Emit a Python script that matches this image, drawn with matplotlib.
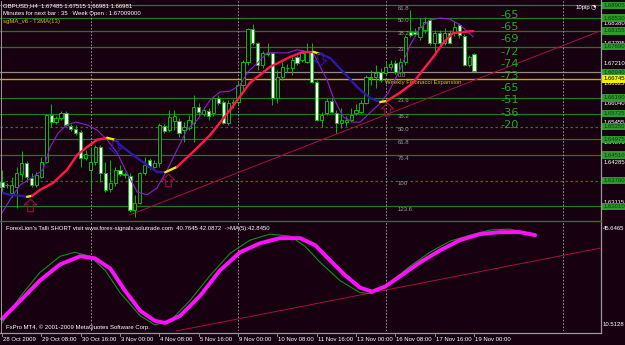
import matplotlib
matplotlib.use('Agg')
import matplotlib.pyplot as plt
from matplotlib.path import Path
from matplotlib.collections import LineCollection
from matplotlib.patches import Rectangle

plt.rcParams['font.family'] = ['Liberation Sans', 'DejaVu Sans']
BG = '#170010'
FS = 4.3

# ---------------- data ----------------
opens = [1.6373,1.6363,1.6341,1.6358,1.6396,1.6428,1.6384,1.6364,1.6387,1.6431,
         1.6569,1.6548,1.6560,1.6575,1.6537,1.6528,1.6519,1.6443,1.6408,1.6431,
         1.6475,1.6399,1.6352,1.6370,1.6408,1.6396,1.6390,1.6291,1.6311,1.6399,
         1.6437,1.6417,1.6428,1.6537,1.6525,1.6551,1.6551,1.6525,1.6531,1.6546,
         1.6593,1.6572,1.6581,1.6575,1.6619,1.6607,1.6546,1.6604,1.6607,1.6657,
         1.6724,1.6821,1.6780,1.6716,1.6751,1.6751,1.6619,1.6680,1.6707,1.6707,
         1.6739,1.6730,1.6724,1.6754,1.6666,1.6554,1.6575,1.6610,1.6575,1.6546,
         1.6548,1.6554,1.6575,1.6578,1.6604,1.6680,1.6680,1.6695,1.6692,1.6710,
         1.6721,1.6695,1.6724,1.6812,1.6812,1.6798,1.6818,1.6847,1.6780,1.6809,
         1.6780,1.6809,1.6809,1.6833,1.6801,1.6716,1.67485]
highs = [1.6408,1.6370,1.6387,1.6417,1.6464,1.6434,1.6399,1.6402,1.6446,1.6572,
         1.6601,1.6566,1.6581,1.6581,1.6543,1.6540,1.6525,1.6467,1.6475,1.6481,
         1.6481,1.6431,1.6437,1.6417,1.6422,1.6402,1.6399,1.6335,1.6402,1.6446,
         1.6443,1.6437,1.6546,1.6543,1.6584,1.6584,1.6560,1.6548,1.6569,1.6628,
         1.6604,1.6593,1.6590,1.6625,1.6628,1.6613,1.6613,1.6616,1.6666,1.6730,
         1.6824,1.6836,1.6783,1.6757,1.6780,1.6754,1.6701,1.6724,1.6718,1.6739,
         1.6745,1.6760,1.6780,1.6780,1.6672,1.6578,1.6619,1.6619,1.6584,1.6590,
         1.6566,1.6590,1.6601,1.6613,1.6686,1.6701,1.6716,1.6707,1.6724,1.6730,
         1.6730,1.6736,1.6803,1.6877,1.6824,1.6853,1.6856,1.6853,1.6818,1.6818,
         1.6824,1.6818,1.6842,1.6839,1.6806,1.6745,1.67515]
lows = [1.6341,1.6355,1.6329,1.6297,1.6379,1.6373,1.6358,1.6358,1.6384,1.6428,
        1.6534,1.6543,1.6554,1.6537,1.6522,1.6510,1.6417,1.6437,1.6349,1.6422,
        1.6373,1.6343,1.6343,1.6361,1.6390,1.6384,1.6285,1.6270,1.6308,1.6393,
        1.6411,1.6414,1.6417,1.6516,1.6519,1.6525,1.6505,1.6490,1.6525,1.6490,
        1.6566,1.6566,1.6554,1.6566,1.6598,1.6543,1.6540,1.6590,1.6601,1.6642,
        1.6716,1.6774,1.6701,1.6707,1.6742,1.6598,1.6604,1.6672,1.6695,1.6686,
        1.6716,1.6724,1.6721,1.6663,1.6551,1.6534,1.6569,1.6575,1.6516,1.6531,
        1.6537,1.6548,1.6569,1.6575,1.6601,1.6657,1.6648,1.6666,1.6686,1.6701,
        1.6689,1.6689,1.6716,1.6798,1.6801,1.6789,1.6809,1.6774,1.6745,1.6771,
        1.6774,1.6777,1.6801,1.6795,1.6713,1.6710,1.66981]
closes = [1.6358,1.6364,1.6364,1.6399,1.6428,1.6387,1.6364,1.6393,1.6431,1.6569,
          1.6548,1.6560,1.6575,1.6540,1.6528,1.6516,1.6443,1.6455,1.6431,1.6475,
          1.6399,1.6349,1.6370,1.6408,1.6396,1.6393,1.6291,1.6311,1.6399,1.6422,
          1.6417,1.6428,1.6540,1.6522,1.6563,1.6566,1.6516,1.6534,1.6554,1.6593,
          1.6578,1.6584,1.6566,1.6619,1.6604,1.6546,1.6604,1.6607,1.6657,1.6724,
          1.6821,1.6780,1.6716,1.6751,1.6748,1.6619,1.6680,1.6710,1.6706,1.6730,
          1.6721,1.6751,1.6754,1.6666,1.6554,1.6569,1.6610,1.6578,1.6546,1.6554,
          1.6554,1.6569,1.6584,1.6604,1.6680,1.6677,1.6692,1.6672,1.6710,1.6718,
          1.6695,1.6724,1.6798,1.6803,1.6806,1.6827,1.6842,1.6780,1.6809,1.6780,
          1.6809,1.6780,1.6827,1.6803,1.6716,1.6739,1.66981]

# purple moving average (bar, price)
ma_bars = [0,1.6,3.7,6.3,8.3,9.8,11.4,13.2,15.0,17.3,19.3,21.4,23.4,25.4,27.5,29.5,31.5,33.6,
           35.6,37.6,39.7,42.3,44.3,46.4,48.4,50.0,51.9,53.9,55.9,58.0,60.0,62.0,63.3,64.7,
           66.1,67.3,69.4,71.4,72.8,74.8,76.9,78.5,80.9,83.0,85.0,87.0,89.1,91.1,93.1,95.8]
ma_vals = [1.6282,1.6320,1.6364,1.6387,1.6408,1.6475,1.6516,1.6540,1.6548,1.6540,1.6525,
           1.6496,1.6458,1.6399,1.6343,1.6335,1.6355,1.6408,1.6467,1.6525,1.6554,1.6613,
           1.6636,1.6639,1.6657,1.6695,1.6721,1.6751,1.6751,1.6751,1.6760,1.6754,1.6751,
           1.6710,1.6672,1.6622,1.6563,1.6548,1.6548,1.6575,1.6604,1.6633,1.6701,1.6774,
           1.6824,1.6847,1.6853,1.6850,1.6833,1.6798]

# T3MA(13) (bar, price)
t3_bars = [0,1.6,3.7,5.1,6.1,7.7,10.4,13.2,15.3,17.3,19.3,21.4,23.0,24.0,26.6,29.5,31.5,33.2,
           35.6,38.2,40.3,42.3,46.4,50.4,54.5,58.6,61.2,63.3,64.7,66.7,69.4,72.2,74.8,76.9,
           78.3,78.9,80.9,83.6,85.6,87.7,89.7,91.7,93.8,95.8]
t3_vals = [1.6341,1.6335,1.6332,1.6329,1.6332,1.6349,1.6370,1.6408,1.6452,1.6475,1.6496,
           1.6502,1.6496,1.6481,1.6452,1.6422,1.6402,1.6401,1.6417,1.6452,1.6481,1.6510,
           1.6584,1.6663,1.6710,1.6739,1.6754,1.6754,1.6748,1.6736,1.6695,1.6651,1.6619,
           1.6607,1.6610,1.6616,1.6634,1.6663,1.6701,1.6739,1.6780,1.6809,1.6812,1.6815]

up_arrow_bars = [5.7, 33.8, 78.3]
up_arrow_prices = [1.6305, 1.6379, 1.6587]
down_arrow_bars = [23.0, 64.7]
down_arrow_prices = [1.6475, 1.6733]

trend_bars = [26.0, 121.6]
trend_prices = [1.6276, 1.6815]

fib_levels = [-61.8, -50.0, -38.2, -23.6, 0.0, 23.6, 38.2, 50.0, 61.8, 76.4, 100.0, 123.6]
fib_0 = 1.6694
fib_100 = 1.6376
weekly_line = 1.66745
pip_labels = ["-65", "-65", "-69", "-72", "-74", "-73", "-65", "-51", "-36", "-20"]
price_ticks = [1.68380, 1.67795, 1.67210, 1.66625, 1.66040, 1.65455, 1.64870,
               1.64285, 1.63700, 1.63115]

time_bars = [0, 8, 16, 24, 32, 40, 48, 56, 64, 72, 80, 88, 96]
time_labels = ["28 Oct 2009", "29 Oct 08:00", "30 Oct 16:00", "3 Nov 00:00", "4 Nov 08:00",
               "5 Nov 16:00", "9 Nov 00:00", "10 Nov 08:00", "11 Nov 16:00", "13 Nov 00:00",
               "16 Nov 08:00", "17 Nov 16:00", "19 Nov 00:00"]
separator_bars = [18, 48, 78, 114]

# ForexLion indicator
osc_bars = [0,3.7,7.7,11.8,15.9,18.9,22.0,25.0,28.1,31.1,33.2,36.2,40.3,44.3,48.4,52.5,56.5,
            60.6,63.7,66.7,69.8,72.8,75.2,77.9,80.9,85.0,89.1,93.1,97.2,101.3,105.3,108.4]
osc_main = [14.42,20.27,26.78,31.98,34.59,33.94,30.68,23.53,17.02,13.77,13.12,15.39,21.90,
            30.03,35.89,38.81,40.44,40.44,38.16,33.28,28.41,24.50,23.20,24.83,28.08,32.63,
            36.54,39.79,41.74,42.39,42.39,41.42]
sig_bars = [0,3.7,7.7,11.8,14.8,17.9,21.0,24.0,28.1,31.1,34.2,38.2,42.3,46.4,50.4,54.5,58.6,
            61.6,64.7,68.7,72.8,75.2,78.9,82.9,87.0,91.1,95.2,99.2,103.3,107.4]
osc_signal = [13.12,21.57,29.38,34.59,35.89,34.59,30.03,22.87,15.39,12.47,13.77,20.27,28.41,
              35.56,39.79,41.74,41.09,37.84,32.63,26.78,22.87,22.55,26.13,31.33,35.89,39.47,
              41.42,43.04,43.37,41.74]
osc_trend_bars = [35.4, 121.6]
osc_trend_vals = [10.51, 37.21]
osc_min, osc_max = 10.5128, 45.6465

# ---------------- figure ----------------
W, H = 625, 345
fig = plt.figure(figsize=(6.25, 3.45), dpi=100, facecolor=BG)

def rect(x0, y0, x1, y1):
    return [x0 / W, 1 - y1 / H, (x1 - x0) / W, (y1 - y0) / H]

ax = fig.add_axes(rect(0, 1, 601, 219))
ax2 = fig.add_axes(rect(0, 222, 601, 331))
XL = (-0.41, 121.8)
for a in (ax, ax2):
    a.set_facecolor(BG)
    a.set_xlim(*XL)
    a.set_xticks([]); a.set_yticks([])
    for s in a.spines.values():
        s.set_visible(False)
ax.set_ylim(1.6264, 1.6903)
ax2.set_ylim(osc_min, osc_max)

GREEN = '#1f7a1f'
# right price labels (white)
for p in price_ticks:
    ax.annotate('%.5f' % p, xy=(1.004, p), xycoords=('axes fraction', 'data'), fontsize=FS,
                color='white', va='center', ha='left', annotation_clip=False, zorder=4)

# fib lines
for L in fib_levels:
    p = fib_0 + (fib_100 - fib_0) * L / 100.0
    if L == 0:
        ax.axhline(p, color='#8c8c8c', lw=0.9, zorder=1)
    else:
        ls = (0, (2, 2)) if L in (50.0, 100.0) else '-'
        ax.axhline(p, color=GREEN, lw=0.9, ls=ls, zorder=1)
    lab = '%.1f' % abs(L) if abs(L) != 100 else '100'
    ax.text(80.5, p - 0.0001, lab, color='#9a9a9a', fontsize=FS, va='top', ha='left', zorder=3)
    ax.annotate('%.5f' % p, xy=(1.004, p), xycoords=('axes fraction', 'data'),
                fontsize=FS, color='#0b3d0b', va='center', ha='left', annotation_clip=False,
                bbox=dict(boxstyle='square,pad=0.2', fc='#2e9a2e', ec='none'), zorder=6)

ax.axhline(weekly_line, color='#b5b500', lw=1.0, zorder=1)
ax.text(77.8, weekly_line - 0.0002, 'Weekly Fibonacci Expansion', color='#c8c800',
        fontsize=FS, va='top', ha='left', zorder=3)
ax.annotate('%.5f' % weekly_line, xy=(1.004, weekly_line), xycoords=('axes fraction', 'data'),
            fontsize=FS, color='black', va='center', ha='left', annotation_clip=False,
            bbox=dict(boxstyle='square,pad=0.2', fc='#f0f000', ec='none'), zorder=7)

# separators
for b in separator_bars:
    for a in (ax, ax2):
        a.axvline(b, color='#a8a8a8', lw=0.6, ls=(0, (2, 2)), zorder=1)

# trend line
ax.plot(trend_bars, trend_prices, color='#a8123c', lw=0.7, zorder=2)

# candles
for i, (o, h, l, c) in enumerate(zip(opens, highs, lows, closes)):
    ax.plot([i, i], [l, h], color='#00c000', lw=0.7, zorder=3, solid_capstyle='butt')
    lo, hi = min(o, c), max(o, c)
    hgt = max(hi - lo, 0.00006)
    fc = BG if c >= o else 'white'
    ax.add_patch(Rectangle((i - 0.33, lo), 0.66, hgt, fc=fc, ec='#00c000', lw=0.7, zorder=4))

# purple MA
ax.plot(ma_bars, ma_vals, color='#8a22c8', lw=0.8, zorder=5)

# T3 colored line
segs, cols = [], []
prev = None
for k in range(len(t3_bars) - 1):
    d = 1 if t3_vals[k + 1] >= t3_vals[k] else -1
    segs.append([(t3_bars[k], t3_vals[k]), (t3_bars[k + 1], t3_vals[k + 1])])
    if prev is not None and d != prev:
        cols.append('#e8e800')
    else:
        cols.append('#ff1848' if d > 0 else '#2a1aa8')
    prev = d
ax.add_collection(LineCollection(segs, colors=cols, linewidths=1.7, zorder=6, capstyle='round'))

# arrows
up_path = Path([(-0.22, -0.5), (0.22, -0.5), (0.22, 0.05), (0.5, 0.05), (0, 0.5),
                (-0.5, 0.05), (-0.22, 0.05), (-0.22, -0.5)])
down_path = Path([(x, -y) for x, y in up_path.vertices])
ax.plot(up_arrow_bars, up_arrow_prices, ls='none', marker=up_path, ms=9, mfc='none',
        mec='#a01038', mew=0.8, zorder=7)
ax.plot(down_arrow_bars, down_arrow_prices, ls='none', marker=down_path, ms=9, mfc='none',
        mec='#2a1aa8', mew=0.8, zorder=7)

# pip labels
for k, t in enumerate(pip_labels):
    fig.text(500 / W, 1 - (15 + k * 12.2) / H, t, color='#22a822', fontsize=8.2,
             va='center', ha='left', family='DejaVu Sans')

# header texts
fig.text(3 / W, 1 - 6 / H, 'GBPUSD,H4  1.67485 1.67515 1.66981 1.66981', color='white',
         fontsize=FS, va='center')
fig.text(3 / W, 1 - 13.5 / H, 'Minutes for next bar : 35   Week Open : 1.67009000', color='white',
         fontsize=FS, va='center')
fig.text(3 / W, 1 - 21 / H, 'sgMA_v6 - T3MA(13)', color='#d0c000', fontsize=FS, va='center')
fig.text(576 / W, 1 - 8 / H, '10pip', color='white', fontsize=FS, va='center')
fig.text(591 / W, 1 - 8 / H, '\u25d4', color='white', fontsize=4.5, va='center',
         family='DejaVu Sans')

# indicator panel
ax2.plot(osc_trend_bars, osc_trend_vals, color='#a8123c', lw=0.7, zorder=2)
ax2.plot(osc_bars, osc_main, color='#ff10ff', lw=2.8, zorder=4, solid_capstyle='round')
ax2.plot(sig_bars, osc_signal, color='#109010', lw=0.8, zorder=3)
ax2.text(0.8, 43.6, "ForexLion's Talli SHORT visit www.forex-signals.solutrade.com  40.7645 42.0872"
         "  ->MA(5):42.8450", color='white', fontsize=FS, va='center')
ax2.text(0.8, 11.6, 'FxPro MT4, \u00a9 2001-2009 MetaQuotes Software Corp.', color='white',
         fontsize=FS, va='center')
fig.text(603 / W, 1 - 229 / H, '%.4f' % osc_max, color='white', fontsize=FS, va='center')
fig.text(603 / W, 1 - 324 / H, '%.4f' % osc_min, color='white', fontsize=FS, va='center')

# borders
fig.add_artist(plt.Line2D([601 / W, 601 / W], [1 - 0 / H, 1 - 333 / H], color='#9a9a9a', lw=0.9))
fig.add_artist(plt.Line2D([1 / W, 1 / W], [1 - 1 / H, 1 - 333 / H], color='#9a9a9a', lw=0.7))
fig.add_artist(plt.Line2D([0, 601 / W], [1 - 333 / H, 1 - 333 / H], color='#9a9a9a', lw=0.9))
fig.add_artist(plt.Line2D([0, 601 / W], [1 - 220.5 / H, 1 - 220.5 / H], color='#1f7a1f', lw=1.0))

# time axis
for b, t in zip(time_bars, time_labels):
    xf = (2 + b * 4.917) / W
    fig.add_artist(plt.Line2D([xf, xf], [1 - 333 / H, 1 - 336 / H], color='#9a9a9a', lw=0.6))
    fig.text(xf + 1 / W, 1 - 339.5 / H, t, color='white', fontsize=FS, va='center', ha='left')

fig.savefig('out.png', dpi=100, facecolor=BG)
